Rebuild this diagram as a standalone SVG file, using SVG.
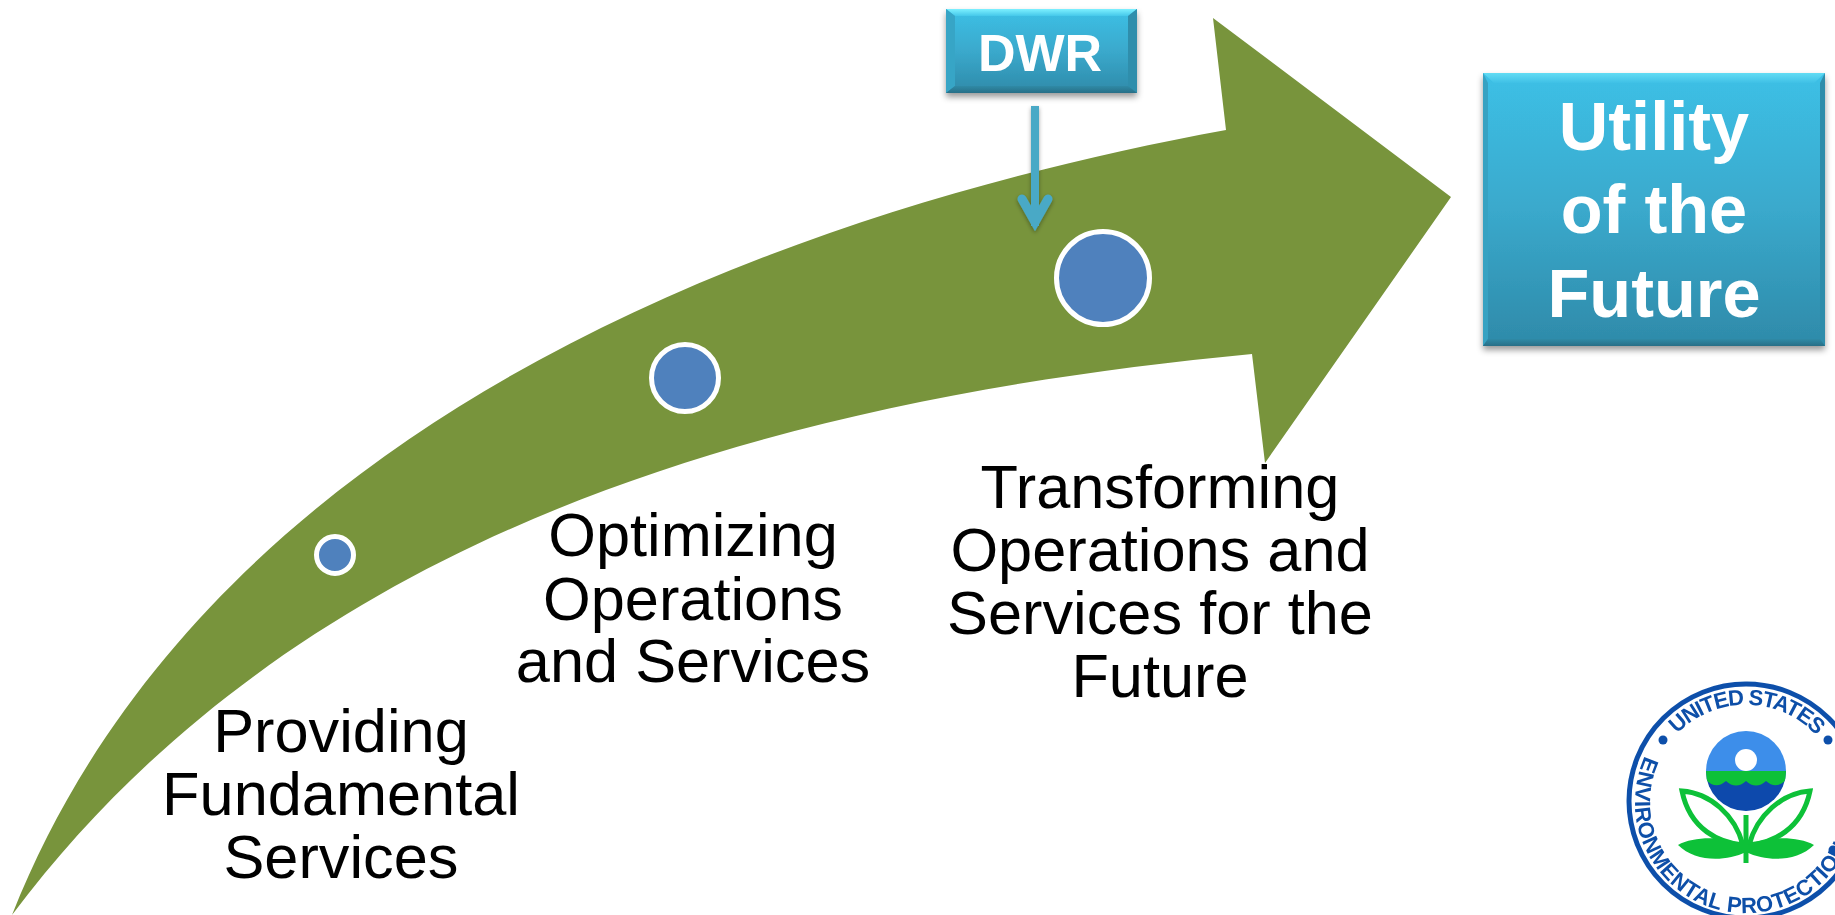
<svg xmlns="http://www.w3.org/2000/svg" width="1835" height="915" viewBox="0 0 1835 915">
<style>
.lbl{font-family:"Liberation Sans",Arial,sans-serif;font-size:61.3px;fill:#000;text-anchor:middle}
.box{font-family:"Liberation Sans",Arial,sans-serif;font-weight:bold;fill:#fff;text-anchor:middle}
.dot{fill:#4f81bd;stroke:#fff;stroke-width:5}
.seal{font-family:"Liberation Sans",Arial,sans-serif;font-weight:bold;font-size:22px;fill:#0f4fa8}
</style>
<defs>
<linearGradient id="g" x1="0" y1="0" x2="0" y2="1"><stop offset="0" stop-color="#3cc0e6"/><stop offset="0.5" stop-color="#3aa9cc"/><stop offset="1" stop-color="#2e8aa9"/></linearGradient>
<linearGradient id="hi" x1="0" y1="0" x2="0" y2="1"><stop offset="0" stop-color="#7df0ff"/><stop offset="1" stop-color="#45c8ea"/></linearGradient>
<linearGradient id="hi2" x1="0" y1="0" x2="0" y2="1"><stop offset="0" stop-color="#62dcf4"/><stop offset="1" stop-color="#3fc0e6"/></linearGradient>
<linearGradient id="lo" x1="0" y1="0" x2="0" y2="1"><stop offset="0" stop-color="#2f8aa6"/><stop offset="1" stop-color="#286f87"/></linearGradient>
<filter id="sh" x="-10%" y="-10%" width="120%" height="125%"><feDropShadow dx="0" dy="4" stdDeviation="3" flood-color="#000" flood-opacity="0.4"/></filter>
<filter id="ash" x="-60%" y="-10%" width="220%" height="120%"><feDropShadow dx="0" dy="2" stdDeviation="2" flood-color="#000" flood-opacity="0.35"/></filter>
<filter id="soft"><feGaussianBlur stdDeviation="0.5"/></filter>
<clipPath id="ball"><circle cx="1746" cy="771" r="40"/></clipPath>
<path id="topArc" d="M1677 734A96 96 0 0 1 1815 734"/>
<path id="botArc" d="M1645 756A111 111 0 1 0 1847 756"/>
</defs>
<path id="sweep" fill="#78943c" d="M12 915C203 432 756.500 216 1226 130L1213 18L1451 197L1265 463L1252 354C790 398 305 524 12 915Z"/>
<g id="connectors">
<g filter="url(#ash)" fill="none" stroke="#4aa9c6"><path d="M1035 106V226" stroke-width="8"/><path d="M1022 199L1035 222L1048 199" stroke-width="9" stroke-linecap="round"/></g>
</g>
<g id="n1"><circle class="dot" cx="335" cy="555" r="18.500"/><text class="lbl" x="341" y="752">Providing</text><text class="lbl" x="341" y="815">Fundamental</text><text class="lbl" x="341" y="878">Services</text></g>
<g id="n2"><circle class="dot" cx="685" cy="378" r="33.500"/><text class="lbl" x="693" y="556">Optimizing</text><text class="lbl" x="693" y="620">Operations</text><text class="lbl" x="693" y="682">and Services</text></g>
<g id="n3"><circle class="dot" cx="1103" cy="278" r="46.500"/><text class="lbl" x="1160" y="508">Transforming</text><text class="lbl" x="1160" y="571">Operations and</text><text class="lbl" x="1160" y="634">Services for the</text><text class="lbl" x="1160" y="697">Future</text></g>
<g id="dwr">
<rect x="946" y="9" width="191" height="84" fill="url(#g)" filter="url(#sh)"/>
<path d="M946 9H1137L1128 16H955Z" fill="url(#hi)"/><path d="M946 9L955 16V86L946 93Z" fill="#37a5c6"/><path d="M1137 9L1128 16V86L1137 93Z" fill="#2f8eac"/><path d="M946 93L955 86H1128L1137 93Z" fill="url(#lo)"/>
<text class="box" x="1040" y="71" font-size="52">DWR</text>
</g>
<g id="utility">
<rect x="1483" y="73" width="342" height="273" fill="url(#g)" filter="url(#sh)"/>
<path d="M1483 73H1825L1814 83H1494Z" fill="url(#hi2)"/><path d="M1483 73L1488 83V339L1483 346Z" fill="#37a2c2"/><path d="M1825 73L1820 83V339L1825 346Z" fill="#2f8dab"/><path d="M1483 346L1488 339H1820L1825 346Z" fill="url(#lo)"/>
<text class="box" x="1654" y="150" font-size="68.500">Utility</text><text class="box" x="1654" y="233" font-size="68.500">of the</text><text class="box" x="1654" y="317" font-size="68.500">Future</text>
</g>
<g id="seal" filter="url(#soft)">
<circle cx="1746" cy="801" r="117" fill="#fff" stroke="#0f50aa" stroke-width="5"/>
<text class="seal"><textPath href="#topArc" textLength="156">UNITED STATES</textPath></text>
<text class="seal"><textPath href="#botArc" textLength="350">ENVIRONMENTAL PROTECTION</textPath></text>
<circle cx="1663" cy="740" r="4.500" fill="#0f50aa"/><circle cx="1828" cy="740" r="4.500" fill="#0f50aa"/><circle cx="1833" cy="850" r="4.500" fill="#0f50aa"/>
<g clip-path="url(#ball)">
<rect x="1706" y="731" width="80" height="40" fill="#3c8eea"/>
<rect x="1706" y="771" width="80" height="41" fill="#0b48ac"/>
<path d="M1706 771H1786V780Q1776 790 1766 781Q1756 790 1746 781Q1736 790 1726 781Q1716 790 1706 780Z" fill="#0cc138"/>
</g>
<circle cx="1746" cy="760" r="11" fill="#fff"/>
<g fill="none" stroke="#0cc138" stroke-width="5"><path d="M1682 791C1710 793 1735 815 1743 845C1720 843 1690 830 1682 791Z"/><path d="M1810 791C1782 793 1757 815 1749 845C1772 843 1802 830 1810 791Z"/><path d="M1746 815V863"/></g>
<path d="M1678 845C1695 836 1725 836 1746 846C1767 836 1797 836 1814 845C1797 862 1767 862 1746 852C1725 862 1695 862 1678 845Z" fill="#0cc138"/>
</g>
</svg>
